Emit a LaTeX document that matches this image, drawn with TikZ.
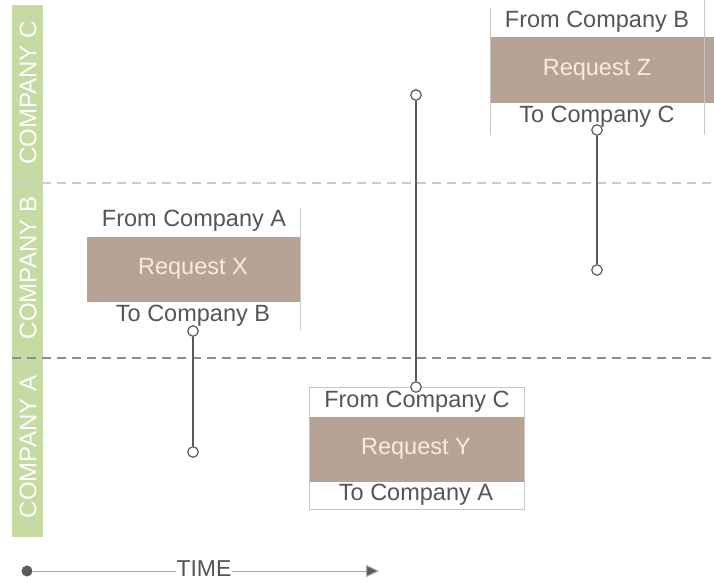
\documentclass[tikz,border=0pt]{standalone}
\usepackage{fontspec}
\setmainfont{Liberation Sans}
\usetikzlibrary{arrows.meta}
\definecolor{lanegreen}{HTML}{C6DAA3}
\definecolor{reqbrown}{HTML}{B7A395}
\definecolor{reqtext}{HTML}{F7EBDD}
\definecolor{txtgray}{HTML}{555555}
\definecolor{linegray}{HTML}{5A5A5A}
\begin{document}
\begin{tikzpicture}[x=1pt,y=-1pt,
  lanelabel/.style={text=white,font=\fontsize{24}{26}\selectfont,rotate=90,inner sep=0pt},
  rowtext/.style={text=txtgray,font=\fontsize{23.5}{25}\selectfont,inner sep=0pt},
  bandtext/.style={text=reqtext,font=\fontsize{23.5}{25}\selectfont,inner sep=0pt},
  band/.style={fill=reqbrown,draw=none},
  sepline/.style={dash pattern=on 9pt off 6pt,line width=1.2pt},
  edgeline/.style={draw=gray!45,line width=1pt},
  conn/.style={draw=linegray,line width=1.8pt},
  port/.style={circle,draw=linegray,fill=white,line width=1.2pt,minimum size=10.5pt,inner sep=0pt}
]
\useasboundingbox (0,0) rectangle (714,582);
% lane bar
\fill[lanegreen] (12,5) rectangle (43,537);
\node[lanelabel] (lc) at (28,93) {COMPANY C};
\node[lanelabel] (lb) at (28,268) {COMPANY B};
\node[lanelabel] (la) at (28,447) {COMPANY A};
% separators
\draw[sepline,draw=gray!40] (12,183) -- (714,183);
\draw[sepline,draw=gray!90] (12,358) -- (714,358);

% Request X
\fill[band] (87,237) rectangle (300,302);
\node[bandtext] (rx) at (193,269) {Request X};
\node[rowtext] (fx) at (194,221) {From Company A};
\node[rowtext] (tx) at (193,316) {To Company B};
\draw[edgeline] (300,208) -- (300,330);

% Request Y
\fill[white] (309,387) rectangle (524,509);
\fill[band] (309,417) rectangle (524,482);
\draw[edgeline] (309,387) rectangle (524,509);
\node[bandtext] (ry) at (416,449) {Request Y};
\node[rowtext] (fy) at (417,402) {From Company C};
\node[rowtext] (ty) at (416,495) {To Company A};

% Request Z
\fill[band] (490,37) rectangle (714,103);
\node[bandtext] (rz) at (597,70) {Request Z};
\node[rowtext] (fz) at (597,22) {From Company B};
\node[rowtext] (tz) at (597,117) {To Company C};
\draw[edgeline] (490,8) -- (490,135);
\draw[edgeline] (704,0) -- (704,135);

% connectors
\node[port] (xa) at (193,331) {};
\node[port] (xb) at (193,452) {};
\draw[conn] (xa) -- (xb);
\node[port] (ya) at (416,387) {};
\node[port] (yb) at (416,95) {};
\draw[conn] (ya) -- (yb);
\node[port] (za) at (597,130) {};
\node[port] (zb) at (597,270) {};
\draw[conn] (za) -- (zb);

% time axis
\node[circle,fill=linegray,minimum size=11pt,inner sep=0pt] (t0) at (27,571) {};
\coordinate (t1) at (379,571);
\draw[draw=gray!70,line width=1pt,-{Triangle[length=13pt,width=12pt,fill=linegray]}] (t0) -- (t1);
\node[fill=white,inner sep=1pt,text=txtgray,font=\fontsize{23}{25}\selectfont] (time) at (204,569) {TIME};
\end{tikzpicture}
\end{document}
